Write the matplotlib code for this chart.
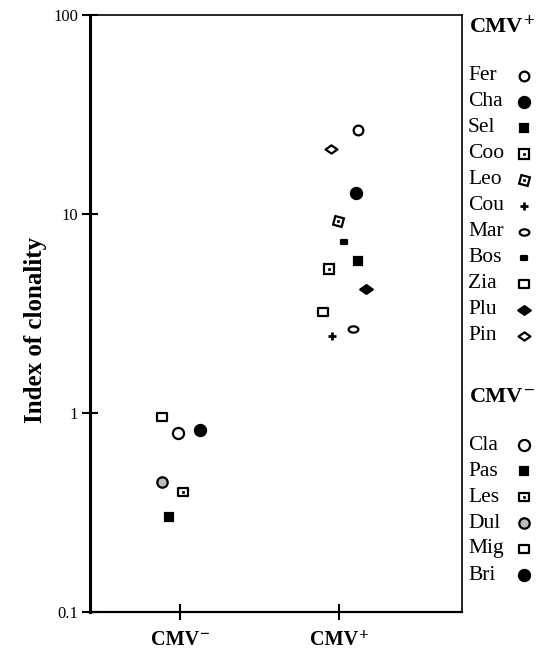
import numpy as np
import matplotlib.pyplot as plt
from matplotlib.path import Path
from matplotlib.transforms import IdentityTransform

plt.rcParams['font.family'] = ['Liberation Serif', 'DejaVu Serif']

# data
pos_names = ['Fer', 'Cha', 'Sel', 'Coo', 'Leo', 'Cou', 'Mar', 'Bos', 'Zia', 'Plu', 'Pin']
pos_values = [26.4, 12.8, 5.8, 5.3, 9.2, 2.45, 2.65, 7.2, 3.2, 4.2, 21.2]
pos_jitter = [0.12, 0.107, 0.12, -0.063, -0.006, -0.044, 0.088, 0.031, -0.10, 0.17, -0.05]

neg_names = ['Cla', 'Pas', 'Les', 'Dul', 'Mig', 'Bri']
neg_values = [0.79, 0.30, 0.40, 0.45, 0.96, 0.82]
neg_jitter = [-0.013, -0.069, 0.019, -0.113, -0.113, 0.126]

group_signs = ['\u2212', '+']
ytick_vals = [0.1, 1, 10, 100]
ytick_labels = ['0.1', '1', '10', '100']

# marker paths
t = np.linspace(0, 2 * np.pi, 40)
ellipse = Path(np.column_stack([np.cos(t), 0.65 * np.sin(t)]), closed=True)
dash = Path([(-1, -0.55), (1, -0.55), (1, 0.55), (-1, 0.55), (-1, -0.55)], closed=True)
flat_diamond = Path([(-1, 0), (0, 0.7), (1, 0), (0, -0.7), (-1, 0)], closed=True)
rect = Path([(-1, -0.75), (1, -0.75), (1, 0.75), (-1, 0.75), (-1, -0.75)], closed=True)
tilt_sq = (4, 0, 30)

W, K = 'white', 'black'
styles = {
    'Fer': dict(marker='o', ms=7, mfc=W),
    'Cha': dict(marker='o', ms=8, mfc=K),
    'Sel': dict(marker='s', ms=6, mfc=K),
    'Coo': dict(marker='s', ms=6.5, mfc=W, dot=True),
    'Leo': dict(marker=tilt_sq, ms=9, mfc=W, dot=True),
    'Cou': dict(marker='+', ms=6, mfc=K, mew=2),
    'Mar': dict(marker=ellipse, ms=7, mfc=W),
    'Bos': dict(marker=dash, ms=5, mfc=K),
    'Zia': dict(marker=rect, ms=7, mfc=W),
    'Plu': dict(marker=flat_diamond, ms=9, mfc=K),
    'Pin': dict(marker=flat_diamond, ms=8.5, mfc=W),
    'Cla': dict(marker='o', ms=8, mfc=W),
    'Pas': dict(marker='s', ms=6, mfc=K),
    'Les': dict(marker=rect, ms=7, mfc=W, dot=True),
    'Dul': dict(marker='o', ms=7.5, mfc='#bbbbbb'),
    'Mig': dict(marker=rect, ms=7, mfc=W),
    'Bri': dict(marker='o', ms=8, mfc=K),
}


def draw(ax, x, y, name, **kw):
    st = dict(styles[name])
    dot = st.pop('dot', False)
    mew = st.pop('mew', 1.6)
    ax.plot([x], [y], linestyle='none', mec=K, mew=mew, **st, **kw)
    if dot:
        ax.plot([x], [y], linestyle='none', marker='s', ms=1.5, mfc=K, mec=K, mew=0.5, **kw)


fig = plt.figure(figsize=(5.41, 6.51), dpi=100)
ax = fig.add_axes([90 / 541, 39 / 651, 372 / 541, 597 / 651])

for n, v, j in zip(pos_names, pos_values, pos_jitter):
    draw(ax, 2 + j, v, n)
for n, v, j in zip(neg_names, neg_values, neg_jitter):
    draw(ax, 1 + j, v, n)

ax.set_yscale('log')
ax.set_ylim(0.1, 100)
ax.set_xlim(0.434, 2.774)
ax.set_yticks(ytick_vals)
ax.set_yticklabels(ytick_labels, fontsize=12)
ax.minorticks_off()
ax.set_xticks([1, 2])
ax.set_xticklabels(['', ''])
ax.tick_params(direction='inout', length=11, width=1.5, pad=3)
for s in ax.spines.values():
    s.set_linewidth(1.2)
ax.spines['left'].set_linewidth(2.2)
ax.spines['bottom'].set_linewidth(1.6)

fig.text(36 / 541, 1 - 330 / 651, 'Index of clonality', fontsize=18, fontweight='bold',
         rotation=90, ha='center', va='center')

# overlay in pixel coordinates (top-left origin) for legend and group labels
leg = fig.add_axes([0, 0, 1, 1], facecolor='none')
leg.set_xlim(0, 541)
leg.set_ylim(651, 0)
leg.axis('off')


def cmv(x, y, sign, size, ha='left'):
    tt = leg.text(x, y, 'CMV', fontsize=size, fontweight='bold', ha='left', va='baseline')
    fig.canvas.draw()
    bb = tt.get_window_extent()
    em = size * fig.dpi / 72
    base = bb.y0 + 0.22 * em
    s = leg.text(bb.x1 + 0.5, base + 0.5 * em, sign, transform=IdentityTransform(),
                 fontsize=size * 0.85, fontweight='bold', ha='left', va='center')
    if ha == 'center':
        fig.canvas.draw()
        sb = s.get_window_extent()
        shift = (sb.x1 - bb.x0) / 2
        tt.set_x(x - shift)
        s.set_x(bb.x1 + 0.5 - shift)


# group labels under the ticks
for xv, sign in zip([1, 2], group_signs):
    px = ax.transData.transform((xv, 1))[0]
    cmv(px, 645, sign, 14.5, ha='center')

cmv(470, 32, group_signs[1], 16)
for i, n in enumerate(pos_names):
    yy = 76 + i * 26
    leg.text(468, yy, n, fontsize=15.5, va='center')
    draw(leg, 524, yy, n)
cmv(470, 402, group_signs[0], 16)
for i, n in enumerate(neg_names):
    yy = 445 + i * 26
    leg.text(468, yy, n, fontsize=15.5, va='center')
    draw(leg, 524, yy, n)

fig.savefig('out.png', dpi=100)
